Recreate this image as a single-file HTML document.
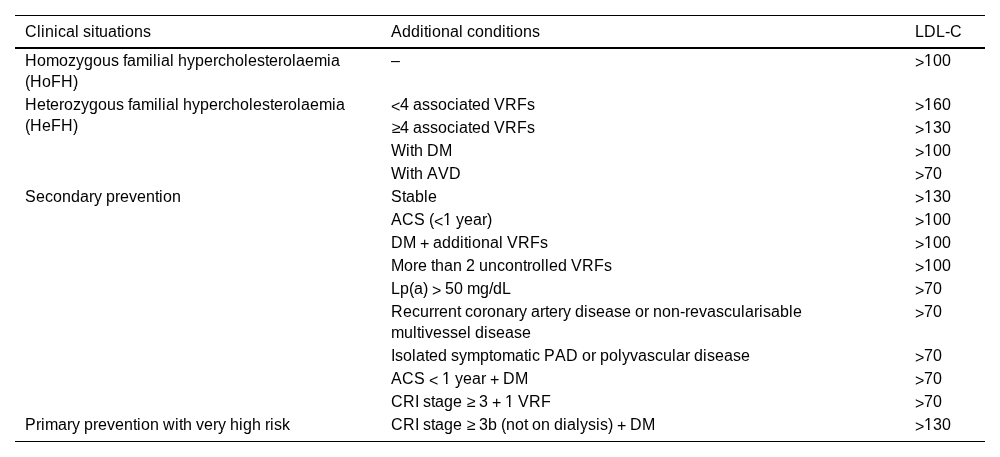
<!DOCTYPE html>
<html><head><meta charset="utf-8">
<style>
html,body{margin:0;padding:0;background:#fff;}
body{width:1000px;height:457px;overflow:hidden;position:relative;font-family:"Liberation Sans",sans-serif;font-size:16px;color:#000;}
#w{position:absolute;left:0;top:0;width:1000px;height:457px;will-change:transform;}
.ln{display:inline-block;white-space:nowrap;}
.t{position:absolute;white-space:nowrap;line-height:21px;}
.t b{display:inline-block;font-weight:normal;text-align:left;}
.t b.o{position:relative;}
.t b.d{position:relative;}
.t b.d i{font-style:normal;}
.t b.d i:first-child{display:inline-block;clip-path:inset(0 0 4px 0);}
.t b.d i+i{position:absolute;left:0;top:1px;clip-path:inset(16px 0 0 0);}
.t b.o::before,.t b.o::after{content:"";position:absolute;top:14px;height:2px;background:#fff;}
.t b.o::before{left:0;width:4px;}
.t b.o::after{left:6px;width:3px;box-shadow:-1px 0 0 rgba(255,255,255,.45);}
.top{position:absolute;left:15px;width:970px;top:15px;height:1px;background:#000;}
.hd{position:absolute;left:15px;width:970px;top:47px;height:2px;background:#000;}
.bt{position:absolute;left:15px;width:970px;top:441px;height:1px;background:#000;}
</style></head><body><div id="w">
<div class="top"></div>
<div class="hd"></div>
<div class="bt"></div>
<div class="t" style="left:25px;top:21px"><span class="ln"><b style="width:12px">C</b><b style="width:4px">l</b><b style="width:4px">i</b><b style="width:9px">n</b><b style="width:4px">i</b><b style="width:8px">c</b><b style="width:9px">a</b><b style="width:4px">l</b><b style="width:4px">&nbsp;</b><b style="width:8px">s</b><b style="width:4px">i</b><b style="width:4px">t</b><b style="width:9px">u</b><b style="width:9px">a</b><b style="width:4px">t</b><b style="width:4px">i</b><b style="width:9px">o</b><b style="width:9px">n</b><b style="width:8px">s</b></span></div>
<div class="t" style="left:391px;top:21px"><span class="ln"><b style="width:11px">A</b><b style="width:9px">d</b><b style="width:9px">d</b><b style="width:4px">i</b><b style="width:4px">t</b><b style="width:4px">i</b><b style="width:9px">o</b><b style="width:9px">n</b><b style="width:9px">a</b><b style="width:4px">l</b><b style="width:4px">&nbsp;</b><b style="width:8px">c</b><b style="width:9px">o</b><b style="width:9px">n</b><b style="width:9px">d</b><b style="width:4px">i</b><b style="width:4px">t</b><b style="width:4px">i</b><b style="width:9px">o</b><b style="width:9px">n</b><b style="width:8px">s</b></span></div>
<div class="t" style="left:915px;top:21px"><span class="ln"><b style="width:9px">L</b><b style="width:12px">D</b><b style="width:9px">L</b><b style="width:5px">-</b><b style="width:12px">C</b></span></div>
<div class="t" style="left:25px;top:50px"><span class="ln"><b style="width:12px">H</b><b style="width:9px">o</b><b style="width:13px">m</b><b style="width:9px">o</b><b style="width:8px">z</b><b class="d" style="width:8px"><i>y</i><i>y</i></b><b class="d" style="width:9px"><i>g</i><i>g</i></b><b style="width:9px">o</b><b style="width:9px">u</b><b style="width:8px">s</b><b style="width:4px">&nbsp;</b><b style="width:4px">f</b><b style="width:9px">a</b><b style="width:13px">m</b><b style="width:4px">i</b><b style="width:4px">l</b><b style="width:4px">i</b><b style="width:9px">a</b><b style="width:4px">l</b><b style="width:4px">&nbsp;</b><b style="width:9px">h</b><b class="d" style="width:8px"><i>y</i><i>y</i></b><b class="d" style="width:9px"><i>p</i><i>p</i></b><b style="width:9px">e</b><b style="width:5px">r</b><b style="width:8px">c</b><b style="width:9px">h</b><b style="width:9px">o</b><b style="width:4px">l</b><b style="width:9px">e</b><b style="width:8px">s</b><b style="width:4px">t</b><b style="width:9px">e</b><b style="width:5px">r</b><b style="width:9px">o</b><b style="width:4px">l</b><b style="width:9px">a</b><b style="width:9px">e</b><b style="width:13px">m</b><b style="width:4px">i</b><b style="width:9px">a</b></span><br><span class="ln"><b class="d" style="width:5px"><i>(</i><i>(</i></b><b style="width:12px">H</b><b style="width:9px">o</b><b style="width:10px">F</b><b style="width:12px">H</b><b class="d" style="width:5px"><i>)</i><i>)</i></b></span></div>
<div class="t" style="left:391px;top:50px"><span class="ln"><b style="width:9px">–</b></span></div>
<div class="t" style="left:915px;top:50px"><span class="ln"><b style="width:9px;position:relative;top:2px">&gt;</b><b class="o" style="width:9px">1</b><b style="width:9px">0</b><b style="width:9px">0</b></span></div>
<div class="t" style="left:25px;top:94px"><span class="ln"><b style="width:12px">H</b><b style="width:9px">e</b><b style="width:4px">t</b><b style="width:9px">e</b><b style="width:5px">r</b><b style="width:9px">o</b><b style="width:8px">z</b><b class="d" style="width:8px"><i>y</i><i>y</i></b><b class="d" style="width:9px"><i>g</i><i>g</i></b><b style="width:9px">o</b><b style="width:9px">u</b><b style="width:8px">s</b><b style="width:4px">&nbsp;</b><b style="width:4px">f</b><b style="width:9px">a</b><b style="width:13px">m</b><b style="width:4px">i</b><b style="width:4px">l</b><b style="width:4px">i</b><b style="width:9px">a</b><b style="width:4px">l</b><b style="width:4px">&nbsp;</b><b style="width:9px">h</b><b class="d" style="width:8px"><i>y</i><i>y</i></b><b class="d" style="width:9px"><i>p</i><i>p</i></b><b style="width:9px">e</b><b style="width:5px">r</b><b style="width:8px">c</b><b style="width:9px">h</b><b style="width:9px">o</b><b style="width:4px">l</b><b style="width:9px">e</b><b style="width:8px">s</b><b style="width:4px">t</b><b style="width:9px">e</b><b style="width:5px">r</b><b style="width:9px">o</b><b style="width:4px">l</b><b style="width:9px">a</b><b style="width:9px">e</b><b style="width:13px">m</b><b style="width:4px">i</b><b style="width:9px">a</b></span><br><span class="ln"><b class="d" style="width:5px"><i>(</i><i>(</i></b><b style="width:12px">H</b><b style="width:9px">e</b><b style="width:10px">F</b><b style="width:12px">H</b><b class="d" style="width:5px"><i>)</i><i>)</i></b></span></div>
<div class="t" style="left:391px;top:94px"><span class="ln"><b style="width:9px;position:relative;top:2px">&lt;</b><b style="width:9px">4</b><b style="width:4px">&nbsp;</b><b style="width:9px">a</b><b style="width:8px">s</b><b style="width:8px">s</b><b style="width:9px">o</b><b style="width:8px">c</b><b style="width:4px">i</b><b style="width:9px">a</b><b style="width:4px">t</b><b style="width:9px">e</b><b style="width:9px">d</b><b style="width:4px">&nbsp;</b><b style="width:11px">V</b><b style="width:12px">R</b><b style="width:10px">F</b><b style="width:8px">s</b></span></div>
<div class="t" style="left:915px;top:94px"><span class="ln"><b style="width:9px;position:relative;top:2px">&gt;</b><b class="o" style="width:9px">1</b><b style="width:9px">6</b><b style="width:9px">0</b></span></div>
<div class="t" style="left:391px;top:117px"><span class="ln"><b style="width:9px;position:relative;left:1px">≥</b><b style="width:9px">4</b><b style="width:4px">&nbsp;</b><b style="width:9px">a</b><b style="width:8px">s</b><b style="width:8px">s</b><b style="width:9px">o</b><b style="width:8px">c</b><b style="width:4px">i</b><b style="width:9px">a</b><b style="width:4px">t</b><b style="width:9px">e</b><b style="width:9px">d</b><b style="width:4px">&nbsp;</b><b style="width:11px">V</b><b style="width:12px">R</b><b style="width:10px">F</b><b style="width:8px">s</b></span></div>
<div class="t" style="left:915px;top:117px"><span class="ln"><b style="width:9px;position:relative;top:2px">&gt;</b><b class="o" style="width:9px">1</b><b style="width:9px">3</b><b style="width:9px">0</b></span></div>
<div class="t" style="left:391px;top:140px"><span class="ln"><b style="width:15px">W</b><b style="width:4px">i</b><b style="width:4px">t</b><b style="width:9px">h</b><b style="width:4px">&nbsp;</b><b style="width:12px">D</b><b style="width:13px">M</b></span></div>
<div class="t" style="left:915px;top:140px"><span class="ln"><b style="width:9px;position:relative;top:2px">&gt;</b><b class="o" style="width:9px">1</b><b style="width:9px">0</b><b style="width:9px">0</b></span></div>
<div class="t" style="left:391px;top:163px"><span class="ln"><b style="width:15px">W</b><b style="width:4px">i</b><b style="width:4px">t</b><b style="width:9px">h</b><b style="width:4px">&nbsp;</b><b style="width:11px">A</b><b style="width:11px">V</b><b style="width:12px">D</b></span></div>
<div class="t" style="left:915px;top:163px"><span class="ln"><b style="width:9px;position:relative;top:2px">&gt;</b><b style="width:9px">7</b><b style="width:9px">0</b></span></div>
<div class="t" style="left:25px;top:186px"><span class="ln"><b style="width:11px">S</b><b style="width:9px">e</b><b style="width:8px">c</b><b style="width:9px">o</b><b style="width:9px">n</b><b style="width:9px">d</b><b style="width:9px">a</b><b style="width:5px">r</b><b class="d" style="width:8px"><i>y</i><i>y</i></b><b style="width:4px">&nbsp;</b><b class="d" style="width:9px"><i>p</i><i>p</i></b><b style="width:5px">r</b><b style="width:9px">e</b><b style="width:8px">v</b><b style="width:9px">e</b><b style="width:9px">n</b><b style="width:4px">t</b><b style="width:4px">i</b><b style="width:9px">o</b><b style="width:9px">n</b></span></div>
<div class="t" style="left:391px;top:186px"><span class="ln"><b style="width:11px">S</b><b style="width:4px">t</b><b style="width:9px">a</b><b style="width:9px">b</b><b style="width:4px">l</b><b style="width:9px">e</b></span></div>
<div class="t" style="left:915px;top:186px"><span class="ln"><b style="width:9px;position:relative;top:2px">&gt;</b><b class="o" style="width:9px">1</b><b style="width:9px">3</b><b style="width:9px">0</b></span></div>
<div class="t" style="left:391px;top:209px"><span class="ln"><b style="width:11px">A</b><b style="width:12px">C</b><b style="width:11px">S</b><b style="width:4px">&nbsp;</b><b class="d" style="width:5px"><i>(</i><i>(</i></b><b style="width:9px;position:relative;top:2px">&lt;</b><b class="o" style="width:9px">1</b><b style="width:4px">&nbsp;</b><b class="d" style="width:8px"><i>y</i><i>y</i></b><b style="width:9px">e</b><b style="width:9px">a</b><b style="width:5px">r</b><b class="d" style="width:5px"><i>)</i><i>)</i></b></span></div>
<div class="t" style="left:915px;top:209px"><span class="ln"><b style="width:9px;position:relative;top:2px">&gt;</b><b class="o" style="width:9px">1</b><b style="width:9px">0</b><b style="width:9px">0</b></span></div>
<div class="t" style="left:391px;top:232px"><span class="ln"><b style="width:12px">D</b><b style="width:13px">M</b><b style="width:4px">&nbsp;</b><b style="width:9px;position:relative;top:1px">+</b><b style="width:4px">&nbsp;</b><b style="width:9px">a</b><b style="width:9px">d</b><b style="width:9px">d</b><b style="width:4px">i</b><b style="width:4px">t</b><b style="width:4px">i</b><b style="width:9px">o</b><b style="width:9px">n</b><b style="width:9px">a</b><b style="width:4px">l</b><b style="width:4px">&nbsp;</b><b style="width:11px">V</b><b style="width:12px">R</b><b style="width:10px">F</b><b style="width:8px">s</b></span></div>
<div class="t" style="left:915px;top:232px"><span class="ln"><b style="width:9px;position:relative;top:2px">&gt;</b><b class="o" style="width:9px">1</b><b style="width:9px">0</b><b style="width:9px">0</b></span></div>
<div class="t" style="left:391px;top:255px"><span class="ln"><b style="width:13px">M</b><b style="width:9px">o</b><b style="width:5px">r</b><b style="width:9px">e</b><b style="width:4px">&nbsp;</b><b style="width:4px">t</b><b style="width:9px">h</b><b style="width:9px">a</b><b style="width:9px">n</b><b style="width:4px">&nbsp;</b><b style="width:9px">2</b><b style="width:4px">&nbsp;</b><b style="width:9px">u</b><b style="width:9px">n</b><b style="width:8px">c</b><b style="width:9px">o</b><b style="width:9px">n</b><b style="width:4px">t</b><b style="width:5px">r</b><b style="width:9px">o</b><b style="width:4px">l</b><b style="width:4px">l</b><b style="width:9px">e</b><b style="width:9px">d</b><b style="width:4px">&nbsp;</b><b style="width:11px">V</b><b style="width:12px">R</b><b style="width:10px">F</b><b style="width:8px">s</b></span></div>
<div class="t" style="left:915px;top:255px"><span class="ln"><b style="width:9px;position:relative;top:2px">&gt;</b><b class="o" style="width:9px">1</b><b style="width:9px">0</b><b style="width:9px">0</b></span></div>
<div class="t" style="left:391px;top:278px"><span class="ln"><b style="width:9px">L</b><b class="d" style="width:9px"><i>p</i><i>p</i></b><b class="d" style="width:5px"><i>(</i><i>(</i></b><b style="width:9px">a</b><b class="d" style="width:5px"><i>)</i><i>)</i></b><b style="width:4px">&nbsp;</b><b style="width:9px;position:relative;top:2px">&gt;</b><b style="width:4px">&nbsp;</b><b style="width:9px">5</b><b style="width:9px">0</b><b style="width:4px">&nbsp;</b><b style="width:13px">m</b><b class="d" style="width:9px"><i>g</i><i>g</i></b><b style="width:4px">/</b><b style="width:9px">d</b><b style="width:9px">L</b></span></div>
<div class="t" style="left:915px;top:278px"><span class="ln"><b style="width:9px;position:relative;top:2px">&gt;</b><b style="width:9px">7</b><b style="width:9px">0</b></span></div>
<div class="t" style="left:391px;top:301px"><span class="ln"><b style="width:12px">R</b><b style="width:9px">e</b><b style="width:8px">c</b><b style="width:9px">u</b><b style="width:5px">r</b><b style="width:5px">r</b><b style="width:9px">e</b><b style="width:9px">n</b><b style="width:4px">t</b><b style="width:4px">&nbsp;</b><b style="width:8px">c</b><b style="width:9px">o</b><b style="width:5px">r</b><b style="width:9px">o</b><b style="width:9px">n</b><b style="width:9px">a</b><b style="width:5px">r</b><b class="d" style="width:8px"><i>y</i><i>y</i></b><b style="width:4px">&nbsp;</b><b style="width:9px">a</b><b style="width:5px">r</b><b style="width:4px">t</b><b style="width:9px">e</b><b style="width:5px">r</b><b class="d" style="width:8px"><i>y</i><i>y</i></b><b style="width:4px">&nbsp;</b><b style="width:9px">d</b><b style="width:4px">i</b><b style="width:8px">s</b><b style="width:9px">e</b><b style="width:9px">a</b><b style="width:8px">s</b><b style="width:9px">e</b><b style="width:4px">&nbsp;</b><b style="width:9px">o</b><b style="width:5px">r</b><b style="width:4px">&nbsp;</b><b style="width:9px">n</b><b style="width:9px">o</b><b style="width:9px">n</b><b style="width:5px">-</b><b style="width:5px">r</b><b style="width:9px">e</b><b style="width:8px">v</b><b style="width:9px">a</b><b style="width:8px">s</b><b style="width:8px">c</b><b style="width:9px">u</b><b style="width:4px">l</b><b style="width:9px">a</b><b style="width:5px">r</b><b style="width:4px">i</b><b style="width:8px">s</b><b style="width:9px">a</b><b style="width:9px">b</b><b style="width:4px">l</b><b style="width:9px">e</b></span><br><span class="ln"><b style="width:13px">m</b><b style="width:9px">u</b><b style="width:4px">l</b><b style="width:4px">t</b><b style="width:4px">i</b><b style="width:8px">v</b><b style="width:9px">e</b><b style="width:8px">s</b><b style="width:8px">s</b><b style="width:9px">e</b><b style="width:4px">l</b><b style="width:4px">&nbsp;</b><b style="width:9px">d</b><b style="width:4px">i</b><b style="width:8px">s</b><b style="width:9px">e</b><b style="width:9px">a</b><b style="width:8px">s</b><b style="width:9px">e</b></span></div>
<div class="t" style="left:915px;top:301px"><span class="ln"><b style="width:9px;position:relative;top:2px">&gt;</b><b style="width:9px">7</b><b style="width:9px">0</b></span></div>
<div class="t" style="left:391px;top:345px"><span class="ln"><b style="width:4px">I</b><b style="width:8px">s</b><b style="width:9px">o</b><b style="width:4px">l</b><b style="width:9px">a</b><b style="width:4px">t</b><b style="width:9px">e</b><b style="width:9px">d</b><b style="width:4px">&nbsp;</b><b style="width:8px">s</b><b class="d" style="width:8px"><i>y</i><i>y</i></b><b style="width:13px">m</b><b class="d" style="width:9px"><i>p</i><i>p</i></b><b style="width:4px">t</b><b style="width:9px">o</b><b style="width:13px">m</b><b style="width:9px">a</b><b style="width:4px">t</b><b style="width:4px">i</b><b style="width:8px">c</b><b style="width:4px">&nbsp;</b><b style="width:11px">P</b><b style="width:11px">A</b><b style="width:12px">D</b><b style="width:4px">&nbsp;</b><b style="width:9px">o</b><b style="width:5px">r</b><b style="width:4px">&nbsp;</b><b class="d" style="width:9px"><i>p</i><i>p</i></b><b style="width:9px">o</b><b style="width:4px">l</b><b class="d" style="width:8px"><i>y</i><i>y</i></b><b style="width:8px">v</b><b style="width:9px">a</b><b style="width:8px">s</b><b style="width:8px">c</b><b style="width:9px">u</b><b style="width:4px">l</b><b style="width:9px">a</b><b style="width:5px">r</b><b style="width:4px">&nbsp;</b><b style="width:9px">d</b><b style="width:4px">i</b><b style="width:8px">s</b><b style="width:9px">e</b><b style="width:9px">a</b><b style="width:8px">s</b><b style="width:9px">e</b></span></div>
<div class="t" style="left:915px;top:345px"><span class="ln"><b style="width:9px;position:relative;top:2px">&gt;</b><b style="width:9px">7</b><b style="width:9px">0</b></span></div>
<div class="t" style="left:391px;top:368px"><span class="ln"><b style="width:11px">A</b><b style="width:12px">C</b><b style="width:11px">S</b><b style="width:4px">&nbsp;</b><b style="width:9px;position:relative;top:2px">&lt;</b><b style="width:4px">&nbsp;</b><b class="o" style="width:9px">1</b><b style="width:4px">&nbsp;</b><b class="d" style="width:8px"><i>y</i><i>y</i></b><b style="width:9px">e</b><b style="width:9px">a</b><b style="width:5px">r</b><b style="width:4px">&nbsp;</b><b style="width:9px;position:relative;top:1px">+</b><b style="width:4px">&nbsp;</b><b style="width:12px">D</b><b style="width:13px">M</b></span></div>
<div class="t" style="left:915px;top:368px"><span class="ln"><b style="width:9px;position:relative;top:2px">&gt;</b><b style="width:9px">7</b><b style="width:9px">0</b></span></div>
<div class="t" style="left:391px;top:391px"><span class="ln"><b style="width:12px">C</b><b style="width:12px">R</b><b style="width:4px">I</b><b style="width:4px">&nbsp;</b><b style="width:8px">s</b><b style="width:4px">t</b><b style="width:9px">a</b><b class="d" style="width:9px"><i>g</i><i>g</i></b><b style="width:9px">e</b><b style="width:4px">&nbsp;</b><b style="width:9px;position:relative;left:1px">≥</b><b style="width:4px">&nbsp;</b><b style="width:9px">3</b><b style="width:4px">&nbsp;</b><b style="width:9px;position:relative;top:1px">+</b><b style="width:4px">&nbsp;</b><b class="o" style="width:9px">1</b><b style="width:4px">&nbsp;</b><b style="width:11px">V</b><b style="width:12px">R</b><b style="width:10px">F</b></span></div>
<div class="t" style="left:915px;top:391px"><span class="ln"><b style="width:9px;position:relative;top:2px">&gt;</b><b style="width:9px">7</b><b style="width:9px">0</b></span></div>
<div class="t" style="left:25px;top:414px"><span class="ln"><b style="width:11px">P</b><b style="width:5px">r</b><b style="width:4px">i</b><b style="width:13px">m</b><b style="width:9px">a</b><b style="width:5px">r</b><b class="d" style="width:8px"><i>y</i><i>y</i></b><b style="width:4px">&nbsp;</b><b class="d" style="width:9px"><i>p</i><i>p</i></b><b style="width:5px">r</b><b style="width:9px">e</b><b style="width:8px">v</b><b style="width:9px">e</b><b style="width:9px">n</b><b style="width:4px">t</b><b style="width:4px">i</b><b style="width:9px">o</b><b style="width:9px">n</b><b style="width:4px">&nbsp;</b><b style="width:12px">w</b><b style="width:4px">i</b><b style="width:4px">t</b><b style="width:9px">h</b><b style="width:4px">&nbsp;</b><b style="width:8px">v</b><b style="width:9px">e</b><b style="width:5px">r</b><b class="d" style="width:8px"><i>y</i><i>y</i></b><b style="width:4px">&nbsp;</b><b style="width:9px">h</b><b style="width:4px">i</b><b class="d" style="width:9px"><i>g</i><i>g</i></b><b style="width:9px">h</b><b style="width:4px">&nbsp;</b><b style="width:5px">r</b><b style="width:4px">i</b><b style="width:8px">s</b><b style="width:8px">k</b></span></div>
<div class="t" style="left:391px;top:414px"><span class="ln"><b style="width:12px">C</b><b style="width:12px">R</b><b style="width:4px">I</b><b style="width:4px">&nbsp;</b><b style="width:8px">s</b><b style="width:4px">t</b><b style="width:9px">a</b><b class="d" style="width:9px"><i>g</i><i>g</i></b><b style="width:9px">e</b><b style="width:4px">&nbsp;</b><b style="width:9px;position:relative;left:1px">≥</b><b style="width:4px">&nbsp;</b><b style="width:9px">3</b><b style="width:9px">b</b><b style="width:4px">&nbsp;</b><b class="d" style="width:5px"><i>(</i><i>(</i></b><b style="width:9px">n</b><b style="width:9px">o</b><b style="width:4px">t</b><b style="width:4px">&nbsp;</b><b style="width:9px">o</b><b style="width:9px">n</b><b style="width:4px">&nbsp;</b><b style="width:9px">d</b><b style="width:4px">i</b><b style="width:9px">a</b><b style="width:4px">l</b><b class="d" style="width:8px"><i>y</i><i>y</i></b><b style="width:8px">s</b><b style="width:4px">i</b><b style="width:8px">s</b><b class="d" style="width:5px"><i>)</i><i>)</i></b><b style="width:4px">&nbsp;</b><b style="width:9px;position:relative;top:1px">+</b><b style="width:4px">&nbsp;</b><b style="width:12px">D</b><b style="width:13px">M</b></span></div>
<div class="t" style="left:915px;top:414px"><span class="ln"><b style="width:9px;position:relative;top:2px">&gt;</b><b class="o" style="width:9px">1</b><b style="width:9px">3</b><b style="width:9px">0</b></span></div>
</div></body></html>
